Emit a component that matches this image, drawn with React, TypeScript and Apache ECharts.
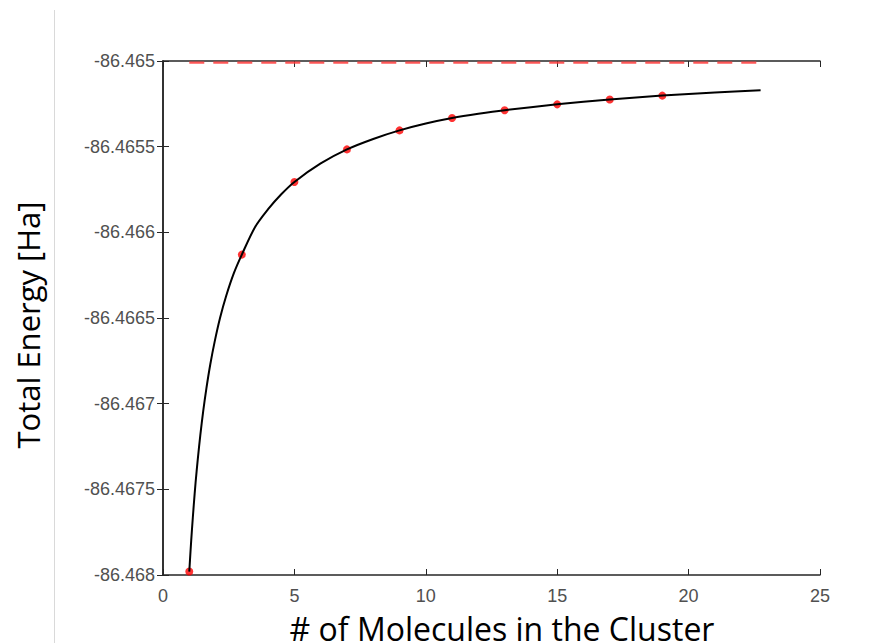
import React, { useEffect, useRef } from "react";
import * as echarts from "echarts";

// Data
const clusterSizes = [1, 3, 5, 7, 9, 11, 13, 15, 17, 19];
const totalEnergies = [
  -86.46798, -86.46613, -86.465706, -86.465516, -86.465405, -86.465333,
  -86.465287, -86.465253, -86.465225, -86.465202,
];
const fitX = [
  1, 1.05, 1.1, 1.17, 1.24, 1.32, 1.42, 1.53, 1.65, 1.8, 1.97, 2.17, 2.4, 2.7,
  3, 3.5, 4, 4.5, 5, 6, 7, 8, 9, 10, 11, 12, 13, 15, 17, 19, 21, 22.74,
];
const fitY = [
  -86.46798, -86.467854, -86.467739, -86.467593, -86.46746, -86.46733,
  -86.467184, -86.467044, -86.466912, -86.46677, -86.466635, -86.4665,
  -86.466373, -86.466237, -86.46613, -86.46597, -86.465865, -86.465778,
  -86.465706, -86.465598, -86.465516, -86.465455, -86.465405, -86.465365,
  -86.465333, -86.465308, -86.465287, -86.465253, -86.465225, -86.465202,
  -86.465184, -86.46517,
];
const limitX = [1, 22.74];
const limitEnergy = -86.46501;
const xTicks = { min: 0, max: 25, interval: 5 };
const yTicks = { min: -86.468, max: -86.465, interval: 0.0005 };

const fmtY = (v: number) => String(parseFloat(v.toFixed(4)));

export default function App() {
  const ref = useRef<HTMLDivElement>(null);
  useEffect(() => {
    if (!ref.current) return;
    const chart = echarts.init(ref.current, null, { renderer: "svg" });
    const boxColor = "#262626";
    const labelFont = {
      fontFamily: "Liberation Sans",
      fontSize: 18,
      color: "#505050",
    };
    const xBase = {
      type: "value" as const,
      min: xTicks.min,
      max: xTicks.max,
      interval: xTicks.interval,
      splitLine: { show: false },
      axisLine: { show: true, lineStyle: { color: boxColor, width: 1.5 } },
      axisTick: { show: true, inside: true, length: 6, lineStyle: { color: boxColor } },
    };
    const yBase = {
      type: "value" as const,
      min: yTicks.min,
      max: yTicks.max,
      interval: yTicks.interval,
      scale: true,
      splitLine: { show: false },
      axisLine: { show: true, lineStyle: { color: boxColor, width: 1.5 } },
      axisTick: { show: true, inside: true, length: 6, lineStyle: { color: boxColor } },
    };
    chart.setOption({
      animation: false,
      backgroundColor: "#ffffff",
      grid: { left: 163, right: 66, top: 61, bottom: 68, containLabel: false },
      xAxis: [
        { ...xBase, position: "bottom", axisLabel: { ...labelFont, margin: 12 } },
        { ...xBase, position: "top", axisLabel: { show: false } },
      ],
      yAxis: [
        {
          ...yBase,
          position: "left",
          axisLabel: { ...labelFont, margin: 8, formatter: fmtY },
        },
        { ...yBase, position: "right", axisLabel: { show: false } },
      ],
      series: [
        {
          type: "scatter",
          xAxisIndex: 0,
          yAxisIndex: 0,
          z: 2,
          symbol: "circle",
          symbolSize: 8,
          itemStyle: { color: "#ff0000" },
          data: clusterSizes.map((x, i) => [x, totalEnergies[i]]),
        },
        {
          type: "line",
          xAxisIndex: 0,
          yAxisIndex: 0,
          z: 3,
          smooth: 0.3,
          showSymbol: false,
          symbol: "none",
          lineStyle: { color: "#000000", width: 2 },
          data: fitX.map((x, i) => [x, fitY[i]]),
        },
        {
          type: "line",
          xAxisIndex: 0,
          yAxisIndex: 0,
          z: 3,
          symbol: "none",
          lineStyle: { color: "#ff3b3b", width: 2.2, type: [15, 9], opacity: 0.85 },
          data: limitX.map((x) => [x, limitEnergy]),
        },
      ],
      graphic: [
        {
          type: "line",
          shape: { x1: 54.5, y1: 10, x2: 54.5, y2: 643 },
          style: { stroke: "#d9d9d9", lineWidth: 1 },
          silent: true,
        },
        {
          type: "text",
          x: 28,
          y: 325,
          rotation: Math.PI / 2,
          style: {
            text: "Total Energy [Ha]",
            fontFamily: "Open Sans",
            fontSize: 31,
            fill: "#000000",
            align: "center",
            verticalAlign: "middle",
          },
        },
        {
          type: "text",
          x: 502,
          y: 628,
          style: {
            text: "# of Molecules in the Cluster",
            fontFamily: "Open Sans",
            fontSize: 32,
            fill: "#000000",
            align: "center",
            verticalAlign: "middle",
          },
        },
      ],
    });
    return () => chart.dispose();
  }, []);
  return (
    <div
      ref={ref}
      style={{ position: "fixed", left: 0, top: 0, width: 886, height: 643 }}
    />
  );
}
